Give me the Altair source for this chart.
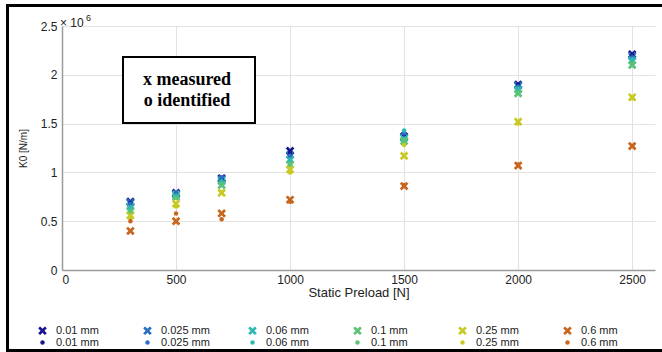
import altair as alt
import pandas as pd

loads = [300, 500, 700, 1000, 1500, 2000, 2500]
series = ["0.01 mm", "0.025 mm", "0.06 mm", "0.1 mm", "0.25 mm", "0.6 mm"]
colors = ["#16168f", "#2a6fc2", "#2fb8b2", "#5cc277", "#c9c923", "#c8651f"]

# K0 values in units of 1e6 N/m
measured = {
    "0.01 mm":  [0.70, 0.79, 0.94, 1.22, 1.37, 1.90, 2.21],
    "0.025 mm": [0.69, 0.78, 0.93, 1.18, 1.36, 1.89, 2.19],
    "0.06 mm":  [0.65, 0.77, 0.91, 1.13, 1.35, 1.85, 2.15],
    "0.1 mm":   [0.61, 0.75, 0.87, 1.08, 1.32, 1.81, 2.10],
    "0.25 mm":  [0.56, 0.68, 0.79, 1.03, 1.17, 1.52, 1.77],
    "0.6 mm":   [0.40, 0.50, 0.58, 0.72, 0.86, 1.07, 1.27],
}
identified = {
    "0.01 mm":  [0.69, 0.78, 0.93, 1.20, 1.39, 1.90, 2.20],
    "0.025 mm": [0.68, 0.79, 0.95, 1.17, 1.40, 1.88, 2.18],
    "0.06 mm":  [0.64, 0.76, 0.91, 1.13, 1.43, 1.86, 2.16],
    "0.1 mm":   [0.60, 0.74, 0.88, 1.08, 1.33, 1.82, 2.11],
    "0.25 mm":  [0.53, 0.65, 0.80, 1.00, 1.28, 1.50, 1.76],
    "0.6 mm":   [0.50, 0.58, 0.52, 0.70, 0.87, 1.08, 1.27],
}

rows = []
for s in series:
    for L, v in zip(loads, measured[s]):
        rows.append({"load": L, "k0": v, "key": "x|" + s, "kind": "m"})
for s in series:
    for L, v in zip(loads, identified[s]):
        rows.append({"load": L, "k0": v, "key": "o|" + s, "kind": "i"})
df = pd.DataFrame(rows)

keys = ["x|" + s for s in series] + ["o|" + s for s in series]
xpath = "M-1,-0.55L-0.55,-1L0,-0.45L0.55,-1L1,-0.55L0.45,0L1,0.55L0.55,1L0,0.45L-0.55,1L-1,0.55L-0.45,0Z"

leg = alt.Legend(
    title=None, orient="none", legendX=-25, legendY=299, columns=6,
    direction="horizontal", labelExpr="split(datum.label, '|')[1]",
    labelFontSize=11, labelFont="Liberation Sans", labelColor="#222",
    columnPadding=37, rowPadding=0, padding=0, gridAlign="all",
    symbolStrokeWidth=0, labelOffset=8,
)

points = alt.Chart(df).mark_point(filled=True, opacity=1).encode(
    x=alt.X("load:Q", scale=alt.Scale(domain=[0, 2600], nice=False),
            axis=alt.Axis(values=[0, 500, 1000, 1500, 2000, 2500], format="d",
                          title="Static Preload [N]")),
    y=alt.Y("k0:Q", scale=alt.Scale(domain=[0, 2.5], nice=False),
            axis=alt.Axis(values=[0, 0.5, 1, 1.5, 2, 2.5], format="~g", title="K0 [N/m]")),
    color=alt.Color("key:N", scale=alt.Scale(domain=keys, range=colors + colors), legend=leg),
    shape=alt.Shape("key:N", scale=alt.Scale(domain=keys, range=[xpath] * 6 + ["circle"] * 6), legend=leg),
    size=alt.Size("key:N", scale=alt.Scale(type="ordinal", domain=keys, range=[75] * 6 + [20] * 6),
                  legend=leg),
    order=alt.Order("kind:N", sort="descending"),
)

anno = pd.DataFrame({"a": [0]})
box = alt.Chart(anno).mark_rect(fill="white", stroke="black", strokeWidth=2).encode(
    x=alt.value(61), x2=alt.value(193), y=alt.value(31), y2=alt.value(97)
)
t1 = alt.Chart(anno).mark_text(font="Liberation Serif", fontWeight="bold", fontSize=18,
                               align="center", baseline="alphabetic", color="black").encode(
    x=alt.value(125), y=alt.value(59), text=alt.value("x measured"))
t2 = alt.Chart(anno).mark_text(font="Liberation Serif", fontWeight="bold", fontSize=18,
                               align="center", baseline="alphabetic", color="black").encode(
    x=alt.value(125), y=alt.value(80), text=alt.value("o identified"))
e1 = alt.Chart(anno).mark_text(font="Liberation Sans", fontSize=12, align="left",
                               baseline="alphabetic", color="#222").encode(
    x=alt.value(-2), y=alt.value(1), text=alt.value("× 10"))
e2 = alt.Chart(anno).mark_text(font="Liberation Sans", fontSize=9, align="left",
                               baseline="alphabetic", color="#222").encode(
    x=alt.value(24), y=alt.value(-5), text=alt.value("6"))
frame = alt.Chart(anno).mark_rect(fill=None, stroke="black", strokeWidth=3).encode(
    x=alt.value(-54.5), x2=alt.value(620), y=alt.value(-20.5), y2=alt.value(324.5)
)

chart = alt.layer(points, box, t1, t2, e1, e2, frame).properties(
    width=593, height=244,
    autosize=alt.AutoSizeParams(type="none"),
    padding={"left": 62, "top": 26, "right": 7, "bottom": 82},
    background="white",
).configure_view(stroke=None).configure_axis(
    grid=True, gridColor="#e2e2e2", gridWidth=1,
    domainColor="#9a9a9a", domainWidth=1.5, tickSize=0,
    labelFont="Liberation Sans", labelFontSize=12, labelColor="#222",
    titleFont="Liberation Sans", titleFontWeight="normal", titleColor="#222",
).configure_axisX(
    labelPadding=4, titleFontSize=13, titlePadding=1,
).configure_axisY(
    labelPadding=5, titleFontSize=10, titlePadding=12,
)

chart.save("out.html", embed_options={"renderer": "svg", "actions": False})
